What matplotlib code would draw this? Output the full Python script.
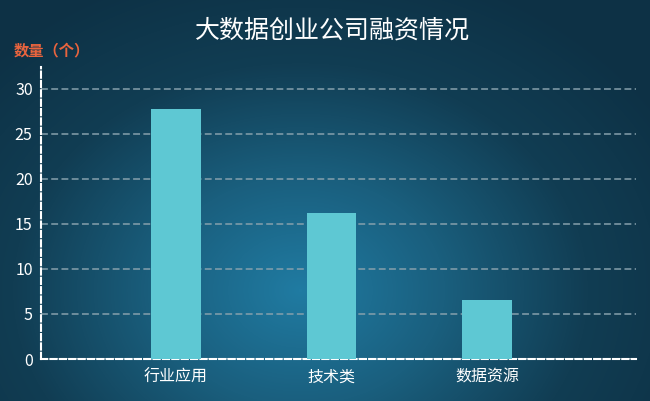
import numpy as np
import matplotlib
matplotlib.use("Agg")
import matplotlib.pyplot as plt
from matplotlib.colors import LinearSegmentedColormap

plt.rcParams['font.family'] = ['Noto Sans CJK SC', 'DejaVu Sans']

categories = ["行业应用", "技术类", "数据资源"]
values = [27.8, 16.2, 6.6]
yticks = [0, 5, 10, 15, 20, 25, 30]

title = "大数据创业公司融资情况"
ylabel = "数量（个）"

W, H = 650, 401
fig = plt.figure(figsize=(W / 100, H / 100), dpi=100)

# radial gradient background
bg = fig.add_axes([0, 0, 1, 1])
yy, xx = np.mgrid[0:H, 0:W]
r = np.sqrt(((xx - 300) / 430.0) ** 2 + ((yy - 290) / 340.0) ** 2)
r = np.clip(r, 0, 1)
cmap_bg = LinearSegmentedColormap.from_list("bg", ["#207ba2", "#1a5f7e", "#113d53", "#0d3145"])
bg.imshow(r, cmap=cmap_bg, aspect="auto", extent=[0, W, H, 0], vmin=0, vmax=1)
bg.axis("off")

left, right = 41 / W, 636 / W
bottom, top = (H - 359) / H, (H - 67) / H
ax = fig.add_axes([left, bottom, right - left, top - bottom])
ax.patch.set_alpha(0)

x = np.arange(len(categories))
ax.bar(x, values, width=0.32, color="#5ec8d3", zorder=3)

ax.set_xlim(-0.868, 2.958)
ax.set_ylim(0, 32.44)
ax.set_yticks(yticks)
ax.set_xticks(x)
ax.set_xticklabels(categories)

ax.grid(axis="y", color="#86a0ac", linestyle=(0, (4.5, 2.2)), linewidth=1.1, zorder=1)
ax.grid(axis="x", visible=False)

for s in ["top", "right"]:
    ax.spines[s].set_visible(False)
for s in ["left", "bottom"]:
    ax.spines[s].set_color("white")
    ax.spines[s].set_linewidth(1.5)
    ax.spines[s].set_linestyle((0, (3, 1.5)))

ax.tick_params(axis="both", length=0, colors="white", labelsize=11.5)
ax.tick_params(axis="y", pad=6)
ax.tick_params(axis="x", pad=7)
for lab in ax.get_xticklabels() + ax.get_yticklabels():
    lab.set_fontweight("medium")

fig.text(332 / W, 1 - 31 / H, title, color="white", fontsize=18, fontweight="medium",
         ha="center", va="center")
fig.text(14 / W, 1 - 50 / H, ylabel, color="#e8643e", fontsize=11, fontweight="bold",
         ha="left", va="center")

fig.savefig("out.png", dpi=100)
